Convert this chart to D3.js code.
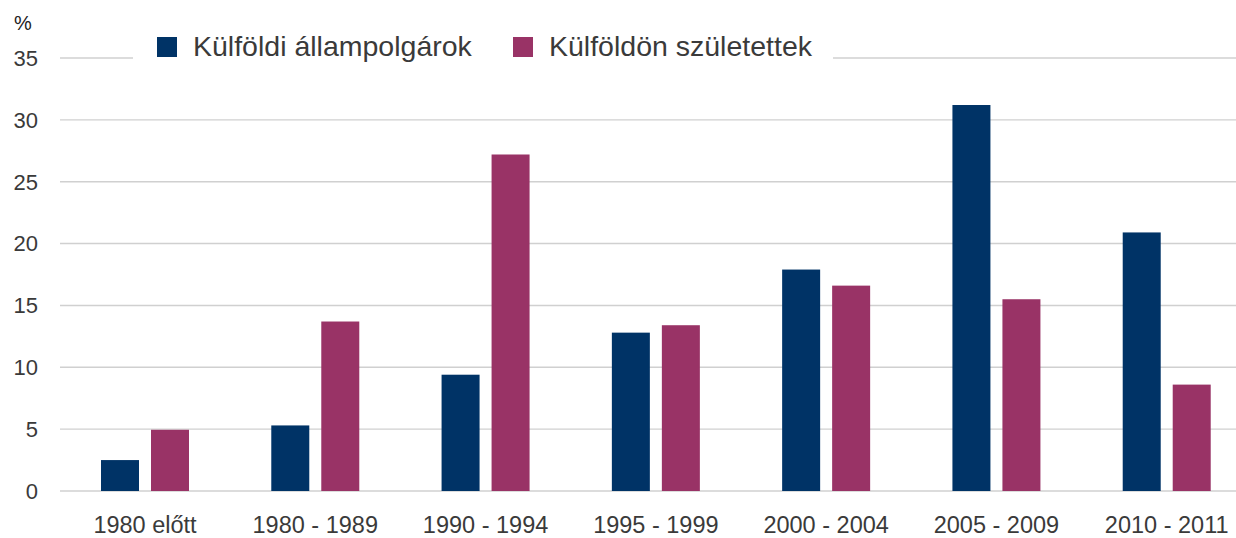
<!DOCTYPE html>
<html>
<head>
<meta charset="utf-8">
<script src="https://cdn.jsdelivr.net/npm/d3@7"></script>
<style>
  html, body { margin: 0; padding: 0; background: #fff; }
  svg { display: block; font-family: "Liberation Sans", Arial, sans-serif; }
</style>
</head>
<body>
<svg id="chart" width="1236" height="538"></svg>
<script>
const categories = ["1980 előtt", "1980 - 1989", "1990 - 1994", "1995 - 1999", "2000 - 2004", "2005 - 2009", "2010 - 2011"];
const seriesNames = ["Külföldi állampolgárok", "Külföldön születettek"];
const foreignCitizens = [2.5, 5.3, 9.4, 12.8, 17.9, 31.2, 20.9];
const foreignBorn = [4.95, 13.7, 27.2, 13.4, 16.6, 15.5, 8.6];
const yTicks = [0, 5, 10, 15, 20, 25, 30, 35];
const colors = ["#003366", "#993366"];

const svg = d3.select("#chart");
const W = 1236;
const plotLeft = 60, plotRight = 1252, plotTop = 58, plotBottom = 491;

const y = d3.scaleLinear().domain([0, 35]).range([plotBottom, plotTop]);
const x0 = d3.scaleBand().domain(categories).range([plotLeft, plotRight]).padding(0);
const x1 = d3.scaleBand().domain(seriesNames).range([41, 129]).paddingInner(0.24).paddingOuter(0);

// gridlines
svg.append("g").selectAll("line").data(yTicks).join("line")
  .attr("x1", plotLeft).attr("x2", W)
  .attr("y1", d => y(d)).attr("y2", d => y(d))
  .attr("stroke", "#d0d0d0").attr("stroke-width", 1.4);

// y tick labels
svg.append("g").selectAll("text").data(yTicks).join("text")
  .attr("x", 38).attr("y", d => y(d)).attr("dy", "0.36em")
  .attr("text-anchor", "end")
  .attr("font-size", 22).attr("fill", "#3a3a3a")
  .text(d => d);

svg.append("text").attr("x", 14).attr("y", 30)
  .attr("font-size", 20).attr("fill", "#222").text("%");

// bars
const data = categories.map((c, i) => ({ cat: c, vals: [foreignCitizens[i], foreignBorn[i]] }));
const groups = svg.append("g").selectAll("g").data(data).join("g")
  .attr("transform", d => `translate(${x0(d.cat)},0)`);
groups.selectAll("rect").data(d => d.vals.map((v, j) => ({ s: seriesNames[j], v, j })))
  .join("rect")
  .attr("x", d => x1(d.s))
  .attr("width", x1.bandwidth())
  .attr("y", d => y(d.v))
  .attr("height", d => y(0) - y(d.v))
  .attr("fill", d => colors[d.j]);

// x labels
svg.append("g").selectAll("text").data(categories).join("text")
  .attr("x", d => x0(d) + 85)
  .attr("y", 533)
  .attr("text-anchor", "middle")
  .attr("font-size", 23.5).attr("fill", "#3a3a3a")
  .text(d => d);

// legend
const lg = svg.append("g");
lg.append("rect").attr("x", 133).attr("y", 30).attr("width", 700).attr("height", 40).attr("fill", "#fff");
const legendX = [157, 513];
seriesNames.forEach((s, i) => {
  lg.append("rect").attr("x", legendX[i]).attr("y", 37).attr("width", 20).attr("height", 20).attr("fill", colors[i]);
  lg.append("text").attr("x", legendX[i] + 36).attr("y", 56)
    .attr("font-size", 28.5).attr("fill", "#3a3a3a").text(s);
});
</script>
</body>
</html>
